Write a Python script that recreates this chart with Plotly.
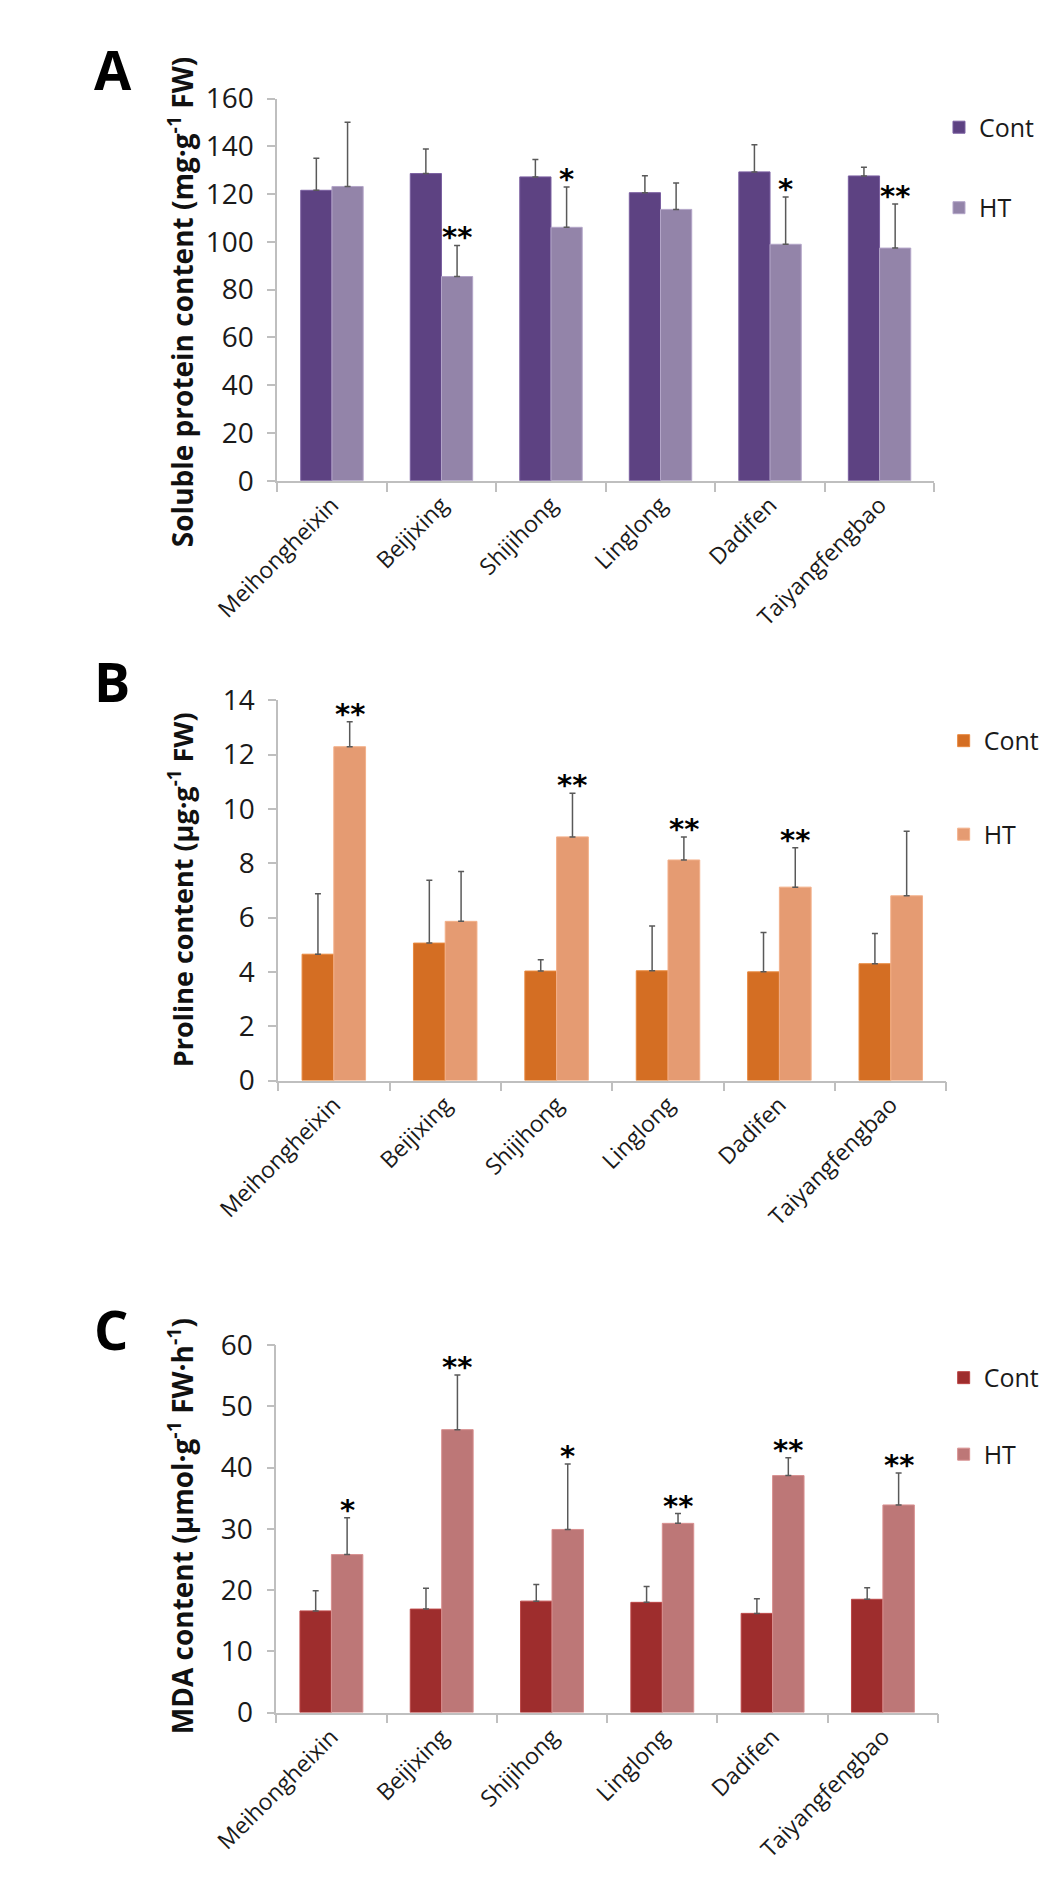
import plotly.graph_objects as go

categories = ["Meihongheixin", "Beijixing", "Shijihong", "Linglong", "Dadifen", "Taiyangfengbao"]

# Panel A: soluble protein
a_cont = [121.6, 128.6, 127.2, 120.6, 129.3, 127.6]
a_cont_err = [13.4, 10.3, 7.3, 7.1, 11.4, 3.6]
a_ht = [123.2, 85.5, 106.1, 113.6, 99.0, 97.4]
a_ht_err = [26.9, 13.0, 16.9, 11.0, 19.8, 18.5]
a_sig = ["", "**", "*", "", "*", "**"]

# Panel B: proline
b_cont = [4.65, 5.06, 4.03, 4.04, 4.00, 4.30]
b_cont_err = [2.23, 2.31, 0.42, 1.65, 1.45, 1.11]
b_ht = [12.29, 5.86, 8.97, 8.12, 7.12, 6.80]
b_ht_err = [0.92, 1.84, 1.61, 0.85, 1.45, 2.38]
b_sig = ["**", "", "**", "**", "**", ""]

# Panel C: MDA
c_cont = [16.6, 16.9, 18.2, 18.0, 16.2, 18.5]
c_cont_err = [3.3, 3.4, 2.7, 2.6, 2.4, 1.9]
c_ht = [25.8, 46.2, 29.9, 30.9, 38.7, 33.9]
c_ht_err = [6.0, 8.9, 10.7, 1.6, 2.9, 5.2]
c_sig = ["*", "**", "*", "**", "**", "**"]

W, H = 1048, 1899
FONT = "Open Sans"
AXC = "#bfbfbf"
ERRC = "#595959"

panels = [
    dict(key="", cont=a_cont, ce=a_cont_err, ht=a_ht, he=a_ht_err, sig=a_sig,
         cc="#5d4282", cl="#7a5fa0", hc="#9384a9", hl="#b3a5c8",
         xdom=(216, 918), ydom=(72, 462), rng=[0, 160], dt=20,
         title="Soluble protein content (mg·g<sup>-1</sup> FW)", tcy=280, tsize=28, letter="A", ly=42,
         legx=923, legy=78, gap=45),
    dict(key="2", cont=b_cont, ce=b_cont_err, ht=b_ht, he=b_ht_err, sig=b_sig,
         cc="#d46e23", cl="#e8893f", hc="#e59b72", hl="#f3b08a",
         xdom=(217, 931), ydom=(686, 1074), rng=[0, 14], dt=2,
         title="Proline content (µg·g<sup>-1</sup> FW)", tcy=879, tsize=27, letter="B", ly=666,
         legx=928, legy=704, gap=58),
    dict(key="3", cont=c_cont, ce=c_cont_err, ht=c_ht, he=c_ht_err, sig=c_sig,
         cc="#9e2d2d", cl="#bb4545", hc="#bd7777", hl="#d89090",
         xdom=(215, 922), ydom=(1344, 1719), rng=[0, 60], dt=10,
         title="MDA content (µmol·g<sup>-1</sup> FW·h<sup>-1</sup>)", tcy=1529, tsize=28, letter="C", ly=1328,
         legx=928, legy=1354, gap=41),
]

fig = go.Figure()
annotations = []
layout = dict(
    width=W, height=H, margin=dict(l=0, r=0, t=0, b=0),
    paper_bgcolor="white", plot_bgcolor="white",
    barmode="group", bargap=0.43, bargroupgap=0,
    font=dict(family=FONT, color="#1a1a1a"),
    showlegend=True,
)

for i, p in enumerate(panels):
    k = p["key"]
    xa = "x" + k
    ya = "y" + k
    leg = "legend" + k
    fig.add_trace(go.Bar(
        x=categories, y=p["cont"], name="Cont", xaxis=xa, yaxis=ya,
        marker=dict(color=p["cc"], line=dict(color=p["cl"], width=1)),
        error_y=dict(type="data", array=p["ce"], arrayminus=[0] * 6, symmetric=False,
                     color=ERRC, thickness=1.5, width=3),
        legend=leg, legendgroup="cont" + k,
    ))
    fig.add_trace(go.Bar(
        x=categories, y=p["ht"], name="HT", xaxis=xa, yaxis=ya,
        marker=dict(color=p["hc"], line=dict(color=p["hl"], width=1)),
        error_y=dict(type="data", array=p["he"], arrayminus=[0] * 6, symmetric=False,
                     color=ERRC, thickness=1.5, width=3),
        legend=leg, legendgroup="ht" + k,
    ))
    x0, x1 = p["xdom"]
    yt, yb = p["ydom"]
    layout["xaxis" + k] = dict(
        domain=[x0 / W, x1 / W], anchor=ya, type="category",
        showline=True, linecolor=AXC, linewidth=1.5,
        ticks="outside", tickson="boundaries", ticklen=9, tickcolor=AXC, tickwidth=1.5,
        tickangle=-45, tickfont=dict(family=FONT, size=23, color="#1a1a1a"),
        showgrid=False, zeroline=False,
    )
    layout["yaxis" + k] = dict(
        domain=[1 - yb / H, 1 - yt / H], anchor=xa, range=p["rng"], dtick=p["dt"],
        showline=True, linecolor=AXC, linewidth=1.5,
        ticks="outside", ticklen=8, tickcolor=AXC, tickwidth=1.5,
        tickfont=dict(family=FONT, size=28, color="#1a1a1a"), ticklabelstandoff=8,
        showgrid=False, zeroline=False,
    )
    layout[leg] = dict(
        x=p["legx"] / W, y=1 - p["legy"] / H, xanchor="left", yanchor="top",
        bgcolor="rgba(0,0,0,0)", font=dict(family=FONT, size=25, color="#1a1a1a"),
        tracegroupgap=p["gap"], traceorder="grouped",
    )
    # y-axis title
    annotations.append(dict(
        xref="paper", yref="paper", x=113 / W, y=1 - p["tcy"] / H,
        text=p["title"], textangle=-90, showarrow=False,
        xanchor="center", yanchor="middle",
        font=dict(family=FONT, size=p["tsize"], color="#111", weight="bold"),
    ))
    # panel letter
    annotations.append(dict(
        xref="paper", yref="paper", x=18 / W, y=1 - p["ly"] / H,
        text=p["letter"], showarrow=False, xanchor="left", yanchor="middle",
        font=dict(family=FONT, size=54, color="#000", weight="bold"),
    ))
    # significance stars above HT bars
    for j, s in enumerate(p["sig"]):
        if s:
            annotations.append(dict(
                xref=xa, yref=ya, x=j + 0.1425, y=p["ht"][j] + p["he"][j],
                text=s, showarrow=False, xanchor="center", yanchor="bottom", yshift=-11,
                font=dict(family="DejaVu Sans", size=29, color="#000", weight="bold"),
            ))

layout["annotations"] = annotations
fig.update_layout(**layout)
fig.write_html("out.html")
